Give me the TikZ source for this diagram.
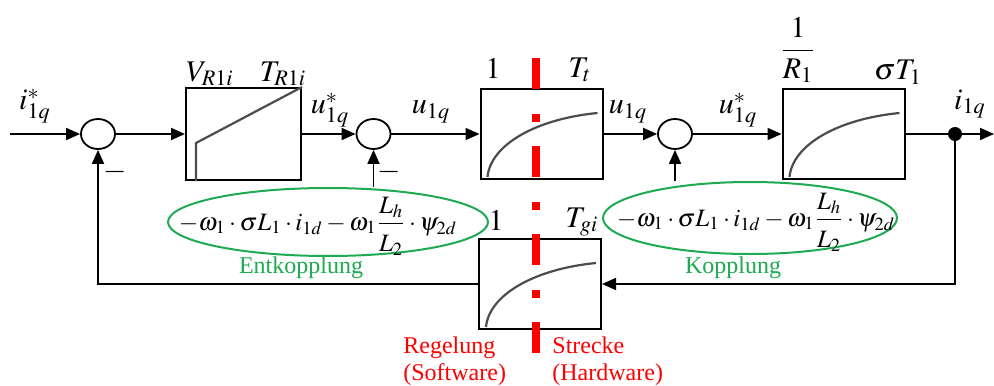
\documentclass[tikz,border=0pt]{standalone}
\usepackage{amsmath}
\usepackage{mathptmx}
\usepackage{fontspec}
\setmainfont{Liberation Serif}
\usepackage{tikz}
\usetikzlibrary{calc,arrows.meta,positioning,shapes.geometric}
\definecolor{CoupGreen}{HTML}{1DAA50}
\definecolor{CutRed}{HTML}{FF0000}

\begin{document}
\begin{tikzpicture}[x=0.5pt, y=-0.5pt,
  every node/.style={inner sep=0pt},
  sum/.style={draw, ellipse, line width=0.9pt, minimum width=17pt, minimum height=15pt},
  blk/.style={draw, line width=1pt, minimum width=61pt, minimum height=45pt},
  sig/.style={-{Triangle[length=7pt,width=6pt]}, line width=0.9pt},
  plain/.style={line width=0.9pt},
  curve/.style={gray!60!black, line width=1.1pt},
  lab/.style={font=\fontsize{15}{18}\selectfont},
  frm/.style={font=\fontsize{12.5}{14}\selectfont},
  grn/.style={draw=CoupGreen, line width=1pt, ellipse},
  note/.style={font=\fontsize{12}{13.5}\selectfont},
  cutline/.style={CutRed, line width=4pt, dash pattern=on 15.5pt off 12.5pt on 4pt off 12pt}]
  \useasboundingbox (0,0) rectangle (994,385);
  % forward path
  \coordinate (inp) at (10,134);
  \node[sum] (sumA) at (98,134) {};
  \node[blk, minimum width=57.5pt, minimum height=46pt] (boxR) at (243.5,134) {};
  \node[sum] (sumB) at (373.5,134) {};
  \node[blk] (boxT) at (541.5,134) {};
  \node[sum] (sumC) at (675,134) {};
  \node[blk] (boxS) at (843.5,134) {};
  \node[fill, circle, minimum size=7pt] (dot) at (955,134) {};
  \coordinate (out) at (994,134);
  % feedback path
  \node[blk] (boxG) at (540,284) {};
  % block characteristics
  \draw[curve] ($(boxR.south west)+(11,0)$) -- ++(0,-38) -- (boxR.north east);
  \foreach \b in {boxT,boxS,boxG}{
    \draw[curve] ($(\b.south west)+(8,-3)$) .. controls +(3,-32) and +(-62,6) .. ($(\b.north east)+(-6,25)$);
  }
  % signals
  \draw[sig] (inp) -- (sumA);
  \draw[sig] (sumA) -- (boxR);
  \draw[sig] (boxR) -- (sumB);
  \draw[sig] (sumB) -- (boxT);
  \draw[sig] (boxT) -- (sumC);
  \draw[sig] (sumC) -- (boxS);
  \draw[plain] (boxS) -- (dot);
  \draw[sig] (dot) -- (out);
  \draw[sig] (dot) |- (boxG);
  \draw[sig] (boxG) -| (sumA);
  % coupling terms
  \node[grn, minimum width=160pt, minimum height=34pt] (ent) at (328,222) {};
  \node[grn, minimum width=147pt, minimum height=36pt] (kop) at (750,218) {};
  \node[frm] (fe) at (318,226) {$-\omega_1\cdot\sigma L_1\cdot i_{1d}-\omega_1\dfrac{L_h}{\rule{0pt}{12pt}L_2}\cdot\psi_{2d}$};
  \node[frm] (fk) at (756,222) {$-\omega_1\cdot\sigma L_1\cdot i_{1d}-\omega_1\dfrac{L_h}{\rule{0pt}{12pt}L_2}\cdot\psi_{2d}$};
  \node[note, text=CoupGreen] (le) at (301,268) {Entkopplung};
  \node[note, text=CoupGreen] (lk) at (733,268) {Kopplung};
  \draw[sig] (sumB |- ent.north) -- (sumB);
  \draw[sig] (sumC |- kop.north) -- (sumC);
  % labels
  \node[lab] (iref) at (35,106) {$i^{*}_{1q}$};
  \node[lab] (vr) at (210,74) {$V_{R1i}$};
  \node[lab] (tr) at (283,74) {$T_{R1i}$};
  \node[lab] (uref1) at (330,110) {$u^{*}_{1q}$};
  \node[lab] (u1) at (431,112) {$u_{1q}$};
  \node[lab] (kt) at (493,68) {$1$};
  \node[lab] (tt) at (580,70) {$T_t$};
  \node[lab] (u2) at (628,112) {$u_{1q}$};
  \node[lab] (uref2) at (738,110) {$u^{*}_{1q}$};
  \node[lab] (ks) at (798,50) {$\dfrac{1}{R_1}$};
  \node[lab] (ts) at (898,72) {$\sigma T_1$};
  \node[lab] (iout) at (970,104) {$i_{1q}$};
  \node[lab] (kg) at (496,220) {$1$};
  \node[lab] (tg) at (582,222) {$T_{gi}$};
  \node[lab] (mA) at (115,172) {$-$};
  \node[lab] (mB) at (389,172) {$-$};
  % software / hardware cut
  \coordinate (cutT) at (535.5,58);
  \coordinate (cutB) at (535.5,353);
  \draw[cutline] (cutT) -- (cutB);
  \node[note, text=CutRed, anchor=north west, align=left] (rg) at (403,336) {Regelung\\(Software)};
  \node[note, text=CutRed, anchor=north west, align=left] (st) at (552,336) {Strecke\\(Hardware)};
\end{tikzpicture}
\end{document}
